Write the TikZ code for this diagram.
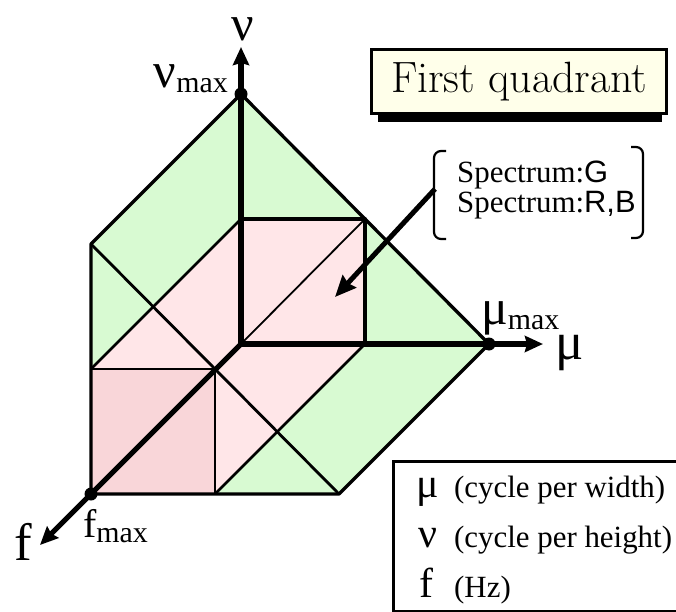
\documentclass[tikz,border=0pt]{standalone}
\usepackage{fontspec}
\usepackage{tikz}
\usetikzlibrary{arrows.meta,positioning,calc}
\newfontfamily\timesfont{Liberation Serif}
\newfontfamily\arialfont{Liberation Sans}
\definecolor{FaceGreen}{HTML}{D8FAD2}
\definecolor{FacePink}{HTML}{FFE6E8}
\definecolor{FaceRose}{HTML}{F9D6D9}
\definecolor{BoxCream}{HTML}{FFFFEA}
\newcommand\maxsub{\raisebox{-5bp}{\fontsize{30}{32}\selectfont max}}

\begin{document}
\begin{tikzpicture}[
    x=1bp,y=-1bp,
    >={Stealth[length=18bp,width=16bp,inset=2bp]},
    rim/.style={line width=3.3bp,line join=round},
    fold/.style={line width=2.8bp},
    hair/.style={line width=1.8bp},
    axis/.style={line width=5.2bp},
    maxdot/.style={circle,fill=black,inner sep=0pt,minimum size=13bp},
    biglbl/.style={font=\timesfont\fontsize{53}{56}\selectfont,inner sep=0pt},
    maxlbl/.style={font=\timesfont\fontsize{50}{54}\selectfont,inner sep=0pt},
    legsym/.style={font=\timesfont\fontsize{42}{44}\selectfont,inner sep=0pt},
    legtxt/.style={font=\timesfont\fontsize{31}{32}\selectfont,inner sep=0pt},
    spectxt/.style={font=\timesfont\fontsize{31}{30}\selectfont,align=left,inner sep=0pt},
    titlebox/.style={draw,line width=3bp,fill=BoxCream,minimum width=295bp,minimum height=64bp,font=\fontsize{44}{48}\selectfont},
    legendbox/.style={draw,line width=2.8bp,fill=white,minimum width=300bp,minimum height=150bp},
    bracket/.style={line width=2.2bp,rounded corners=7bp}
  ]
    \useasboundingbox (0,0) rectangle (676,612);

    \coordinate (O) at (241,344);
    \coordinate (N) at (241,94);
    \coordinate (M) at (489,344);
    \coordinate (F) at (91,494);
    \coordinate (L) at (91,244);
    \coordinate (B) at (339,494);
    \coordinate (Nh) at (241,219);
    \coordinate (Mh) at (365,344);
    \coordinate (Q) at (365,219);
    \coordinate (Lh) at (91,369);
    \coordinate (Bh) at (215,494);
    \coordinate (P) at (215,369);

    \fill[FaceGreen] (N) -- (Nh) -- (Lh) -- (L) -- cycle;
    \fill[FaceGreen] (Mh) -- (M) -- (B) -- (Bh) -- cycle;
    \fill[FaceGreen] (N) -- (M) -- (Mh) -- (Q) -- (Nh) -- cycle;
    \fill[FacePink] (Nh) -- (Q) -- (Mh) -- (O) -- cycle;
    \fill[FacePink] (Nh) -- (O) -- (P) -- (Lh) -- cycle;
    \fill[FacePink] (O) -- (Mh) -- (Bh) -- (P) -- cycle;
    \fill[FaceRose] (Lh) -- (P) -- (Bh) -- (F) -- cycle;

    \draw[hair] (Lh) -- (P) -- (Bh);
    \draw[hair] (O) -- (Q);
    \draw[fold] (Nh) -- (Lh);
    \draw[fold] (Mh) -- (Bh);
    \draw[fold] (L) -- (B);
    \draw[rim] (Nh) -- (Q) -- (Mh);
    \draw[rim] (N) -- (L) -- (F) -- (B) -- (M) -- cycle;

    \coordinate (nutip) at (241,47);
    \coordinate (mutip) at (543,344);
    \coordinate (ftip) at (40,545);
    \draw[axis] (O) -- (N);
    \draw[axis] (O) -- (M);
    \draw[axis] (O) -- (F);
    \draw[axis,->] (N) -- (nutip);
    \draw[axis,->] (M) -- (mutip);
    \draw[axis,->] (F) -- (ftip);
    \node[maxdot] (Ndot) at (N) {};
    \node[maxdot] (Mdot) at (M) {};
    \node[maxdot] (Fdot) at (F) {};

    \node[biglbl,anchor=base,font=\timesfont\fontsize{50}{52}\selectfont] (nuaxis) at (243,41) {ν};
    \node[biglbl,anchor=base west] (muaxis) at (555,359) {μ};
    \node[biglbl,anchor=base west] (faxis) at (14,560) {f};
    \node[maxlbl,anchor=base east] (numax) at (228,88) {ν\maxsub};
    \node[maxlbl,anchor=base west] (mumax) at (481,324) {μ\maxsub};
    \node[maxlbl,anchor=base west,font=\timesfont\fontsize{40}{44}\selectfont] (fmax) at (83,537) {f\maxsub};

    \fill (378,100) rectangle (662,122);
    \node[titlebox] (title) at (519,82) {First quadrant};

    \node[spectxt,anchor=base west] (spec) at (457,212) {Spectrum:{\arialfont G}\\Spectrum:{\arialfont R,B}};
    \draw[bracket] (446,151) -- (434,151) -- (434,239) -- (446,239);
    \draw[bracket] (631,147) -- (643,147) -- (643,238) -- (631,238);
    \coordinate (brk) at (435,189);
    \coordinate (spectip) at (335,297);
    \draw[line width=5bp,-{Stealth[length=21bp,width=18bp,inset=2bp]}] (brk) -- (spectip);

    \node[legendbox,anchor=north west] (legend) at (392,460) {};
    \node[legsym,anchor=base] (symmu) at (428,497) {μ};
    \node[legtxt,anchor=base west] (txtmu) at (454,497) {(cycle per width)};
    \node[legsym,anchor=base] (symnu) at (428,547) {ν};
    \node[legtxt,anchor=base west] (txtnu) at (454,547) {(cycle per height)};
    \node[legsym,anchor=base] (symf) at (426,597) {f};
    \node[legtxt,anchor=base west] (txtf) at (454,597) {(Hz)};
  \end{tikzpicture}
\end{document}
